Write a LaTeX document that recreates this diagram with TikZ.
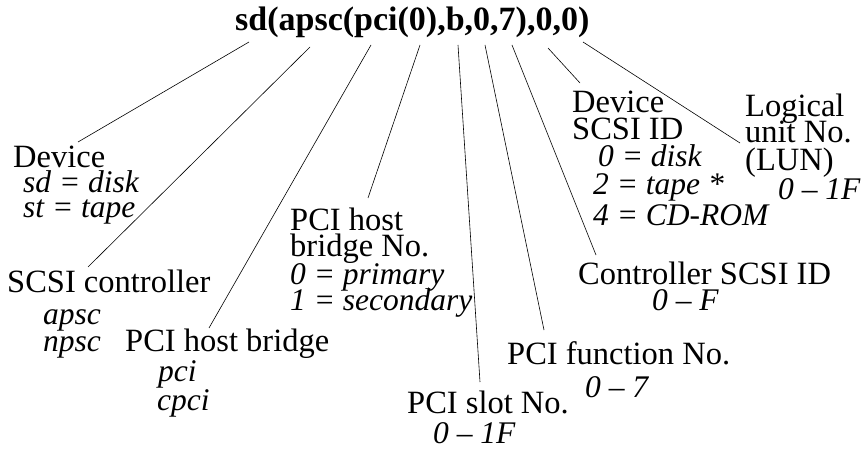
\documentclass[tikz,border=0pt]{standalone}
\usepackage{fontspec}
\setmainfont{Liberation Serif}
\usepackage{tikz}
\tikzset{every picture/.style={x=1pt,y=-1pt},
  lbl/.style={anchor=base west,inner sep=0pt,font=\fontsize{32.5}{33}\selectfont},
  val/.style={lbl,font=\fontsize{31.5}{32}\selectfont\itshape},
  ttl/.style={anchor=base west,inner sep=0pt,font=\fontsize{34}{34}\selectfont\bfseries},
  lead/.style={line width=0.6pt}}

\begin{document}
\begin{tikzpicture}
  \useasboundingbox (0,0) rectangle (868,449);
  \node[ttl] (title) at (235,31) {sd(apsc(pci(0),b,0,7),0,0)};

  % device
  \node[lbl] (dev) at (13,168) {Device};
  \node[val] (dev1) at (23,193) {sd = disk};
  \node[val] (dev2) at (23,218) {st = tape};

  % scsi controller
  \node[lbl] (ctl) at (7,293) {SCSI controller};
  \node[val] (ctl1) at (43,324) {apsc};
  \node[val] (ctl2) at (43,352) {npsc};

  % pci host bridge
  \node[lbl] (hb) at (125,352) {PCI host bridge};
  \node[val] (hb1) at (158,381) {pci};
  \node[val] (hb2) at (157,410) {cpci};

  % pci host bridge no
  \node[lbl] (hbn) at (290,231) {PCI host};
  \node[lbl] (hbn1) at (290,257) {bridge No.};
  \node[val] (hbn2) at (290,284) {0 = primary};
  \node[val] (hbn3) at (290,311) {1 = secondary};

  % pci slot
  \node[lbl] (slot) at (407,413) {PCI slot No.};
  \node[val] (slot1) at (433,443) {0 \textendash\ 1F};

  % pci function
  \node[lbl] (fn) at (507,364) {PCI function No.};
  \node[val] (fn1) at (585,397) {0 \textendash\ 7};

  % controller scsi id
  \node[lbl] (cid) at (578,285) {Controller SCSI ID};
  \node[val] (cid1) at (652,310) {0 \textendash\ F};

  % device scsi id
  \node[lbl] (did) at (572,113) {Device};
  \node[lbl] (did1) at (572,140) {SCSI ID};
  \node[val] (did2) at (598,167) {0 = disk};
  \node[val] (did3) at (593,195) {2 = tape *};
  \node[val] (did4) at (593,226) {4 = CD-ROM};

  % lun
  \node[lbl] (lun) at (745,117) {Logical};
  \node[lbl] (lun1) at (745,143) {unit No.};
  \node[lbl] (lun2) at (745,171) {(LUN)};
  \node[val] (lun3) at (778,200) {0 \textendash\ 1F};

  % line ends under the title
  \coordinate (t1) at (249,42);
  \coordinate (t2) at (310,47);
  \coordinate (t3) at (371,45);
  \coordinate (t4) at (420,45);
  \coordinate (t5) at (458,45);
  \coordinate (t6) at (485,45);
  \coordinate (t7) at (512,45);
  \coordinate (t8) at (548,48);
  \coordinate (t9) at (583,42);
  % line ends at the labels
  \coordinate (b1) at (78,142);
  \coordinate (b2) at (88,267);
  \coordinate (b3) at (209,328);
  \coordinate (b4) at (368,198);
  \coordinate (b5) at (480,382);
  \coordinate (b6) at (544,330);
  \coordinate (b7) at (596,255);
  \coordinate (b8) at (580,83);
  \coordinate (b9) at (740,143);

  \foreach \from/\to in {t1/b1, t2/b2, t3/b3, t4/b4, t5/b5,
    t6/b6, t7/b7, t8/b8, t9/b9}
    \draw[lead] (\from) -- (\to);
\end{tikzpicture}
\end{document}
